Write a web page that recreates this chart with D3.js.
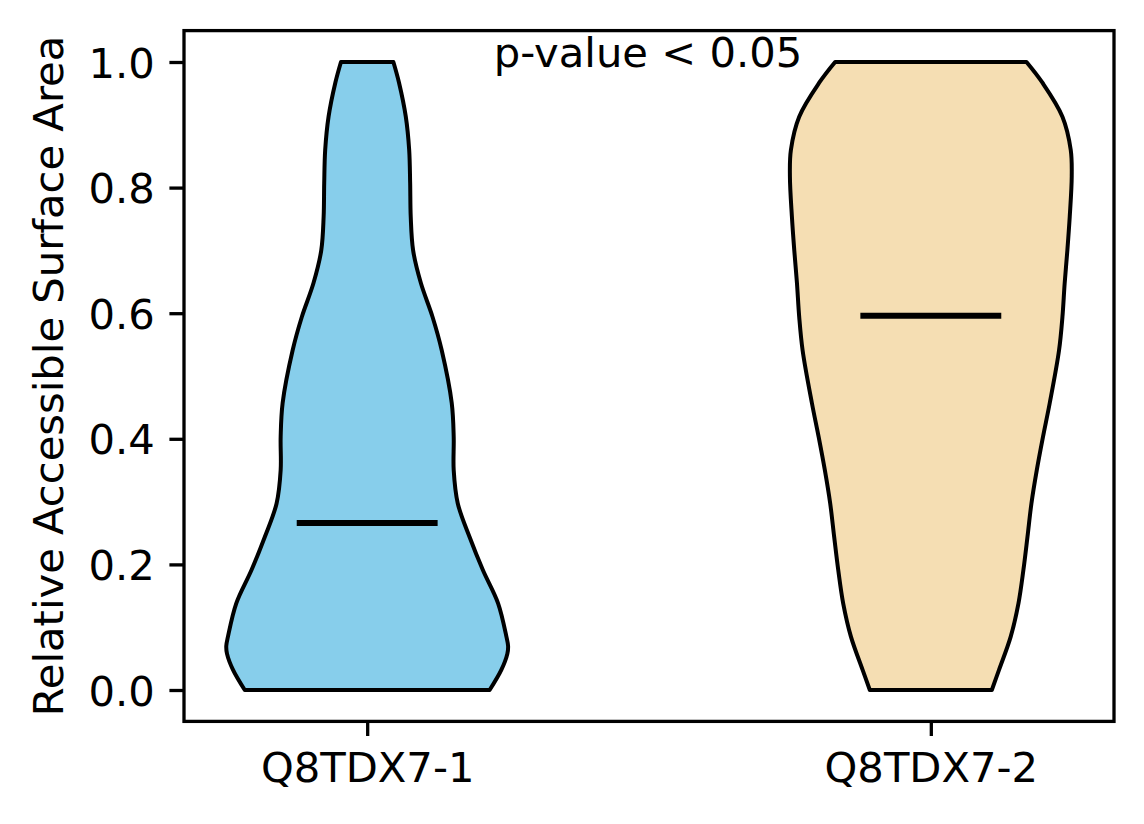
<!DOCTYPE html>
<html>
<head>
<meta charset="utf-8">
<script src="https://cdn.jsdelivr.net/npm/d3@7"></script>
<style>
    body { margin: 0; background: #fff; }
    text { font-family: "DejaVu Sans", sans-serif; }
</style>
</head>
<body>
<div id="chart"></div>
<script>
// groups and their styling order
const categories = ["Q8TDX7-1", "Q8TDX7-2"];
const fills = ["#87CEEB", "#F5DEB3"];

// violin outlines: value, width as a fraction of the widest point
const shape1 = [
    [0.000, 0.869], [0.032, 0.952], [0.058, 0.995], [0.070, 1.000], [0.085, 0.988],
    [0.138, 0.929], [0.191, 0.821], [0.244, 0.726], [0.297, 0.643], [0.350, 0.614],
    [0.403, 0.614], [0.457, 0.600], [0.541, 0.529], [0.594, 0.464],
    [0.648, 0.381], [0.700, 0.326], [0.754, 0.309], [0.807, 0.305], [0.860, 0.298],
    [0.913, 0.274], [0.967, 0.226], [1.000, 0.186]
];
const shape2 = [
    [0.000, 0.433], [0.032, 0.484], [0.085, 0.567], [0.138, 0.622], [0.191, 0.657],
    [0.244, 0.686], [0.297, 0.714], [0.350, 0.752], [0.403, 0.796], [0.457, 0.844],
    [0.541, 0.910], [0.594, 0.934], [0.648, 0.950], [0.700, 0.969],
    [0.754, 0.986], [0.818, 1.000], [0.860, 0.993], [0.913, 0.934], [0.967, 0.792],
    [1.000, 0.679]
];
const shapes = [shape1, shape2];
const medians = [0.266, 0.596];

const yTicks = [0.0, 0.2, 0.4, 0.6, 0.8, 1.0];
const annotation = "p-value < 0.05";
const yLabel = "Relative Accessible Surface Area";

const W = 1144, H = 824;
const fontSize = 41.7;
const tickLen = 14.6;

const svg = d3.select("#chart").append("svg")
    .attr("width", W)
    .attr("height", H);

svg.append("rect").attr("width", W).attr("height", H).attr("fill", "#fff");

// axes box in pixels
const box = {left: 184, right: 1114, top: 30.6, bottom: 721.4};

const x = d3.scaleLinear().domain([0.675, 2.325]).range([box.left, box.right]);
const y = d3.scaleLinear().domain([-0.05, 1.05]).range([box.bottom, box.top]);
const halfWidth = 0.25; // half of the violin width in x units

// violins
shapes.forEach((shape, i) => {
    const pos = i + 1;
    const area = d3.area()
        .y(d => y(d[0]))
        .x0(d => x(pos - d[1] * halfWidth))
        .x1(d => x(pos + d[1] * halfWidth))
        .curve(d3.curveCatmullRom.alpha(0.5));

    svg.append("path")
        .datum(shape)
        .attr("d", area)
        .attr("fill", fills[i])
        .attr("stroke", "#000")
        .attr("stroke-width", 4)
        .attr("stroke-linejoin", "round");

    svg.append("line")
        .attr("x1", x(pos - halfWidth / 2))
        .attr("x2", x(pos + halfWidth / 2))
        .attr("y1", y(medians[i]))
        .attr("y2", y(medians[i]))
        .attr("stroke", "#000")
        .attr("stroke-width", 6);
});

// y axis
const yAxis = svg.append("g")
    .attr("transform", `translate(${box.left},0)`)
    .call(d3.axisLeft(y).tickValues(yTicks).tickFormat(d3.format(".1f"))
        .tickSize(tickLen).tickPadding(14.6));

// x axis
const xAxis = svg.append("g")
    .attr("transform", `translate(0,${box.bottom})`)
    .call(d3.axisBottom(x).tickValues([1, 2]).tickFormat((d, i) => categories[i])
        .tickSize(tickLen).tickPadding(14.6));

[yAxis, xAxis].forEach(g => {
    g.select(".domain").remove();
    g.selectAll(".tick line").attr("stroke", "#000").attr("stroke-width", 3.3);
    g.selectAll(".tick text")
        .attr("fill", "#000")
        .style("font-size", fontSize + "px")
        .style("font-family", "DejaVu Sans");
});
yAxis.selectAll(".tick text").attr("dy", "0.36em");
xAxis.selectAll(".tick text").attr("dy", "0.76em");

// frame
svg.append("rect")
    .attr("x", box.left)
    .attr("y", box.top)
    .attr("width", box.right - box.left)
    .attr("height", box.bottom - box.top)
    .attr("fill", "none")
    .attr("stroke", "#000")
    .attr("stroke-width", 3.3);

// annotation
svg.append("text")
    .attr("x", 648)
    .attr("y", 67)
    .attr("text-anchor", "middle")
    .style("font-size", fontSize + "px")
    .text(annotation);

// y label
svg.append("text")
    .attr("transform", `translate(63,${(box.top + box.bottom) / 2}) rotate(-90)`)
    .attr("text-anchor", "middle")
    .style("font-size", fontSize + "px")
    .text(yLabel);
</script>
</body>
</html>
